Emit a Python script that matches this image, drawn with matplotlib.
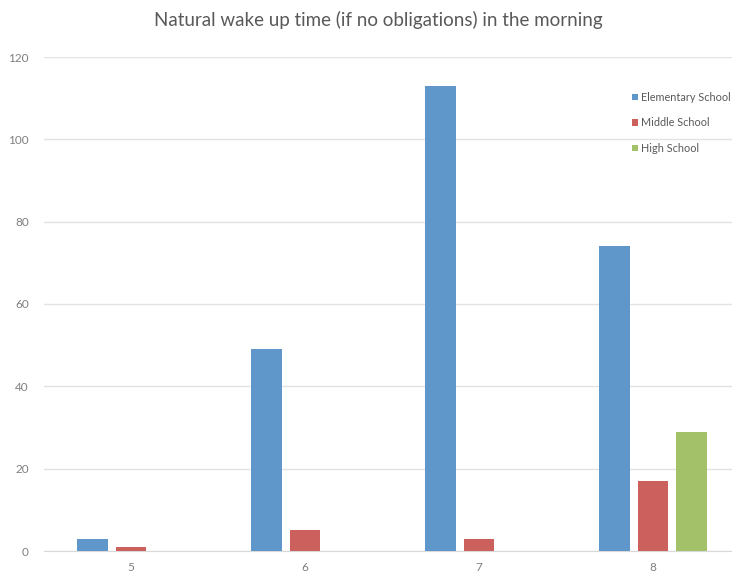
import matplotlib
matplotlib.use("Agg")
import matplotlib.pyplot as plt
import numpy as np

plt.rcParams["font.family"] = ["Lato", "DejaVu Sans"]

# wake-up hour and number of answers per school level
hours = ["5", "6", "7", "8"]
elementary = [3, 49, 113, 74]
middle = [1, 5, 3, 17]
high = [0, 0, 0, 29]

series = [
    ("Elementary School", elementary, "#5f97ca"),
    ("Middle School", middle, "#cb605d"),
    ("High School", high, "#a2c168"),
]

W, H = 732, 575
fig = plt.figure(figsize=(W / 100, H / 100), dpi=100)
ax = fig.add_axes([44 / W, (H - 551) / H, (740 - 44) / W, (551 - 57) / H])

x = np.arange(len(hours))
bw = 0.178
step = 0.221
for i, (name, vals, col) in enumerate(series):
    ax.bar(x + (i - 1) * step, vals, width=bw, color=col, label=name, zorder=3)

ax.set_xlim(-0.5, len(hours) - 0.5)
ax.set_ylim(0, 120)
ax.set_yticks(range(0, 121, 20))
ax.set_xticks(x)
ax.set_xticklabels(hours)
ax.grid(axis="y", color="#e3e3e3", lw=1, zorder=0)
for s in ["top", "right", "left"]:
    ax.spines[s].set_visible(False)
ax.spines["bottom"].set_color("#d9d9d9")
ax.tick_params(length=0, colors="#7f7f7f", labelsize=8.5)
ax.tick_params(axis="y", pad=11)
ax.tick_params(axis="x", pad=8)

fig.text(378 / W, 1 - 20 / H, "Natural wake up time (if no obligations) in the morning",
         ha="center", va="center", fontsize=13.5, color="#595959")

fig.legend(loc="upper left", bbox_to_anchor=(622 / W, 1 - 82 / H), frameon=False,
           fontsize=7.8, labelcolor="#595959", handlelength=0.55, handleheight=0.55,
           handletextpad=0.3, labelspacing=1.35)

fig.savefig("out.png", dpi=100)
